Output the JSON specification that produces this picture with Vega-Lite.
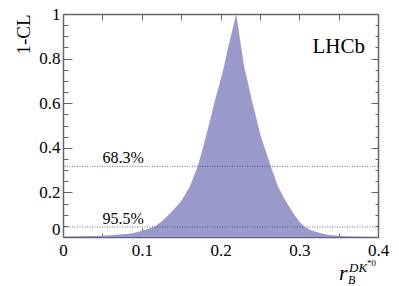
{
  "$schema": "https://vega.github.io/schema/vega-lite/v6.json",
  "autosize": "none",
  "width": 315,
  "height": 223,
  "padding": {"left": 63, "top": 14, "right": 21, "bottom": 49},
  "background": "white",
  "config": {
    "view": {"stroke": null},
    "font": "Liberation Serif",
    "text": {"font": "Liberation Serif"},
    "axis": {
      "grid": false,
      "domainColor": "#666666",
      "domainWidth": 1.5,
      "tickColor": "#666666",
      "tickWidth": 1,
      "labelFont": "Liberation Serif",
      "labelFontSize": 17,
      "labelColor": "black",
      "labelOverlap": false,
      "labelFlush": false,
      "labelBound": false,
      "titleFont": "Liberation Serif",
      "titleFontWeight": "normal",
      "titleColor": "black"
    }
  },
  "datasets": {
    "curve": [
      {"rb": 0.0, "cl": 0.002},
      {"rb": 0.02, "cl": 0.003},
      {"rb": 0.04, "cl": 0.005},
      {"rb": 0.06, "cl": 0.008},
      {"rb": 0.08, "cl": 0.013},
      {"rb": 0.09, "cl": 0.018},
      {"rb": 0.1, "cl": 0.028},
      {"rb": 0.11, "cl": 0.038},
      {"rb": 0.117, "cl": 0.048},
      {"rb": 0.125, "cl": 0.07},
      {"rb": 0.13, "cl": 0.085},
      {"rb": 0.136, "cl": 0.106},
      {"rb": 0.145, "cl": 0.14},
      {"rb": 0.151, "cl": 0.166},
      {"rb": 0.156, "cl": 0.195},
      {"rb": 0.161, "cl": 0.226},
      {"rb": 0.166, "cl": 0.27},
      {"rb": 0.171, "cl": 0.315},
      {"rb": 0.177, "cl": 0.39},
      {"rb": 0.1825, "cl": 0.465},
      {"rb": 0.188, "cl": 0.54},
      {"rb": 0.193, "cl": 0.614},
      {"rb": 0.199, "cl": 0.69},
      {"rb": 0.2044, "cl": 0.764},
      {"rb": 0.209, "cl": 0.84},
      {"rb": 0.214, "cl": 0.913},
      {"rb": 0.22, "cl": 1.0},
      {"rb": 0.225, "cl": 0.88},
      {"rb": 0.23, "cl": 0.764},
      {"rb": 0.235, "cl": 0.69},
      {"rb": 0.2396, "cl": 0.614},
      {"rb": 0.245, "cl": 0.54},
      {"rb": 0.25, "cl": 0.465},
      {"rb": 0.257, "cl": 0.39},
      {"rb": 0.264, "cl": 0.315},
      {"rb": 0.273, "cl": 0.226},
      {"rb": 0.282, "cl": 0.166},
      {"rb": 0.2925, "cl": 0.106},
      {"rb": 0.3, "cl": 0.07},
      {"rb": 0.307, "cl": 0.046},
      {"rb": 0.315, "cl": 0.03},
      {"rb": 0.3285, "cl": 0.016},
      {"rb": 0.34, "cl": 0.008},
      {"rb": 0.36, "cl": 0.003},
      {"rb": 0.38, "cl": 0.001},
      {"rb": 0.4, "cl": 0.0}
    ],
    "levels": [
      {"level": 0.317, "label": "68.3%"},
      {"level": 0.045, "label": "95.5%"}
    ],
    "one": [{"id": 1}]
  },
  "layer": [
    {
      "data": {"name": "curve"},
      "mark": {"type": "area", "color": "#9999cc", "opacity": 1, "interpolate": "linear"},
      "encoding": {
        "x": {
          "field": "rb", "type": "quantitative",
          "scale": {"domain": [0, 0.4], "nice": false, "zero": false},
          "axis": {
            "orient": "bottom", "title": null,
            "labelFont": "Liberation Serif",
            "values": [0, 0.05, 0.1, 0.15, 0.2, 0.25, 0.3, 0.35, 0.4],
            "labelExpr": "round(datum.value*100) % 10 == 0 ? format(datum.value, '.1~f') : ''",
            "tickSize": {"condition": {"test": "round(datum.value*100) % 10 == 0", "value": -9}, "value": -4},
            "labelPadding": 14
          }
        },
        "y": {
          "field": "cl", "type": "quantitative",
          "scale": {"domain": [0, 1], "nice": false, "zero": false},
          "axis": {
            "orient": "left",
            "title": "1-CL",
            "titleFontSize": 19,
            "titleAngle": -90,
            "titleX": -34,
            "titleY": 0,
            "titleAlign": "right",
            "titleBaseline": "alphabetic",
            "labelFont": "Liberation Serif",
            "values": [0, 0.05, 0.1, 0.15, 0.2, 0.25, 0.3, 0.35, 0.4, 0.45, 0.5, 0.55, 0.6, 0.65, 0.7, 0.75, 0.8, 0.85, 0.9, 0.95, 1],
            "labelExpr": "round(datum.value*100) % 20 == 0 ? format(datum.value, '.1~f') : ''",
            "labelOffset": {"condition": {"test": "datum.value == 0", "value": -8}, "value": 0},
            "tickSize": {"condition": {"test": "round(datum.value*100) % 20 == 0", "value": -9}, "value": -5},
            "labelPadding": 12
          }
        }
      }
    },
    {
      "data": {"name": "levels"},
      "mark": {"type": "rule", "color": "#444444", "strokeWidth": 0.8, "strokeDash": [1, 1.5]},
      "encoding": {
        "y": {"field": "level", "type": "quantitative", "axis": null}
      }
    },
    {
      "data": {"name": "levels"},
      "mark": {"type": "text", "align": "left", "baseline": "alphabetic", "dy": -3, "fontSize": 16, "font": "Liberation Serif", "color": "black"},
      "encoding": {
        "x": {
          "datum": 0.05, "type": "quantitative",
          "axis": {
            "orient": "top", "title": null, "labels": false,
            "values": [0, 0.05, 0.1, 0.15, 0.2, 0.25, 0.3, 0.35, 0.4],
            "tickSize": -6
          }
        },
        "y": {
          "field": "level", "type": "quantitative",
          "axis": {
            "orient": "right", "title": null, "labels": false,
            "values": [0, 0.05, 0.1, 0.15, 0.2, 0.25, 0.3, 0.35, 0.4, 0.45, 0.5, 0.55, 0.6, 0.65, 0.7, 0.75, 0.8, 0.85, 0.9, 0.95, 1],
            "tickSize": {"condition": {"test": "round(datum.value*100) % 20 == 0", "value": -7}, "value": -3}
          }
        },
        "text": {"field": "label"}
      }
    },
    {
      "data": {"name": "one"},
      "mark": {"type": "text", "align": "right", "baseline": "alphabetic", "dx": -13, "dy": 39, "fontSize": 21, "font": "Liberation Serif", "color": "black", "text": "LHCb"},
      "encoding": {
        "x": {"datum": 0.4, "type": "quantitative", "axis": null},
        "y": {"datum": 1, "type": "quantitative", "axis": null}
      }
    },
    {
      "data": {"name": "one"},
      "mark": {"type": "text", "align": "left", "baseline": "alphabetic", "dx": -39, "dy": 43, "fontSize": 22, "fontStyle": "italic", "font": "Liberation Serif", "color": "black", "text": "r"},
      "encoding": {
        "x": {"datum": 0.4, "type": "quantitative", "axis": null},
        "y": {"datum": 0, "type": "quantitative", "axis": null}
      }
    },
    {
      "data": {"name": "one"},
      "mark": {"type": "text", "align": "left", "baseline": "alphabetic", "dx": -30, "dy": 47, "fontSize": 12, "fontStyle": "italic", "font": "Liberation Serif", "color": "black", "text": "B"},
      "encoding": {
        "x": {"datum": 0.4, "type": "quantitative", "axis": null},
        "y": {"datum": 0, "type": "quantitative", "axis": null}
      }
    },
    {
      "data": {"name": "one"},
      "mark": {"type": "text", "align": "left", "baseline": "alphabetic", "dx": -29, "dy": 35, "fontSize": 13, "fontStyle": "italic", "font": "Liberation Serif", "color": "black", "text": "DK"},
      "encoding": {
        "x": {"datum": 0.4, "type": "quantitative", "axis": null},
        "y": {"datum": 0, "type": "quantitative", "axis": null}
      }
    },
    {
      "data": {"name": "one"},
      "mark": {"type": "text", "align": "left", "baseline": "alphabetic", "dx": -11, "dy": 29, "fontSize": 9, "font": "Liberation Serif", "color": "black", "text": "*0"},
      "encoding": {
        "x": {"datum": 0.4, "type": "quantitative", "axis": null},
        "y": {"datum": 0, "type": "quantitative", "axis": null}
      }
    }
  ],
  "resolve": {"axis": {"x": "independent", "y": "independent"}}
}
